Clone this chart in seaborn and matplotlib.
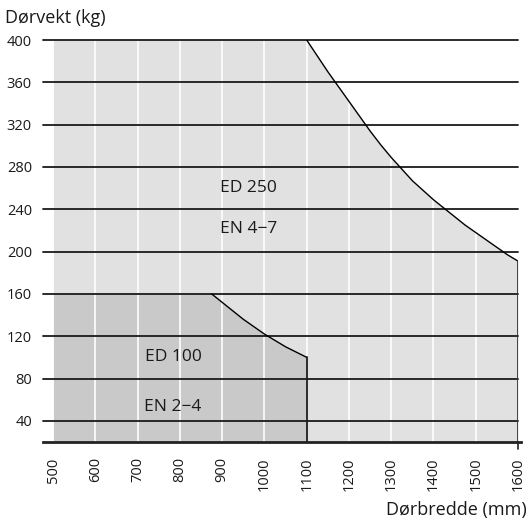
import matplotlib
matplotlib.use("Agg")
import matplotlib.pyplot as plt
import seaborn as sns
import numpy as np
import pandas as pd

# Data
ed250_width = [500, 1100, 1125, 1150, 1175, 1200, 1225, 1250, 1275, 1300, 1325, 1350,
               1375, 1400, 1425, 1450, 1475, 1500, 1525, 1550, 1575, 1600]
ed250_weight = [400, 400, 385, 370, 356, 342, 328, 314, 301, 289, 278, 267,
                258, 249, 241, 233, 225, 218, 211, 204, 197, 191]
ed100_width = [500, 875, 900, 925, 950, 975, 1000, 1025, 1050, 1075, 1100]
ed100_weight = [160, 160, 152, 144, 136, 129, 122, 116, 110, 105, 100]
x_ticks = [500, 600, 700, 800, 900, 1000, 1100, 1200, 1300, 1400, 1500, 1600]
y_ticks = [40, 80, 120, 160, 200, 240, 280, 320, 360, 400]
labels = [("ED 250", 963, 260), ("EN 4\u22127", 963, 221), ("ED 100", 784, 100), ("EN 2\u22124", 784, 53)]

sns.set_style("white")
plt.rcParams['font.family'] = ['Open Sans', 'DejaVu Sans']

fig = plt.figure(figsize=(5.28, 5.24), dpi=100)
ax = fig.add_axes([43/528, (524-442)/524, 475/528, 402/524])
ax.set_xlim(476, 1600)
ax.set_ylim(20, 400)

light = "#e1e1e1"
dark = "#c9c9c9"
ax.fill_between(ed250_width, 20, ed250_weight, color=light, lw=0, zorder=1)
ax.fill_between(ed100_width, 20, ed100_weight, color=dark, lw=0, zorder=2)

# white vertical grid
for xv in x_ticks:
    ax.axvline(xv, color="white", lw=1.2, zorder=3)
# black horizontal grid
for yv in y_ticks:
    ax.axhline(yv, color="#1a1a1a", lw=1.3, zorder=4, clip_on=False)

df250 = pd.DataFrame({"w": ed250_width[1:], "kg": ed250_weight[1:]})
df100 = pd.DataFrame({"w": ed100_width[1:], "kg": ed100_weight[1:]})
sns.lineplot(data=df250, x="w", y="kg", ax=ax, color="black", lw=1.0, sort=False, zorder=5)
sns.lineplot(data=df100, x="w", y="kg", ax=ax, color="black", lw=1.0, sort=False, zorder=5)
ax.plot([ed250_width[-1], ed250_width[-1]], [ed250_weight[-1], 20], color="#333333", lw=1.3, zorder=5)
ax.plot([ed250_width[-1], ed250_width[-1]], [20, 13], color="#333333", lw=1.3, zorder=5, clip_on=False)
ax.plot([ed100_width[-1], ed100_width[-1]], [ed100_weight[-1], 20], color="#1a1a1a", lw=1.3, zorder=5)

for txt, xx, yy in labels:
    ax.text(xx, yy, txt, ha="center", va="center", fontsize=12.5, color="#1a1a1a", zorder=6)

for s in ["top", "right", "left"]:
    ax.spines[s].set_visible(False)
ax.spines["bottom"].set_color("#222222")
ax.spines["bottom"].set_linewidth(2)
ax.spines["bottom"].set_zorder(6)
ax.spines["bottom"].set_bounds(476, 1608)

ax.set_xticks(x_ticks)
ax.set_xticklabels([str(v) for v in x_ticks], rotation=90)
ax.set_yticks(y_ticks)
ax.set_yticklabels([str(v) for v in y_ticks])
ax.tick_params(axis="both", length=0, labelsize=10.5, colors="#1a1a1a")
ax.tick_params(axis="x", pad=11)
ax.tick_params(axis="y", pad=8)
ax.set_xlabel("")
ax.set_ylabel("")

fig.text(5/528, 1 - 18/524, "Dørvekt (kg)", ha="left", va="center", fontsize=13, color="#1a1a1a")
fig.text(527/528, 1 - 510/524, "Dørbredde (mm)", ha="right", va="center", fontsize=13, color="#1a1a1a")

fig.savefig("out.png", dpi=100)
